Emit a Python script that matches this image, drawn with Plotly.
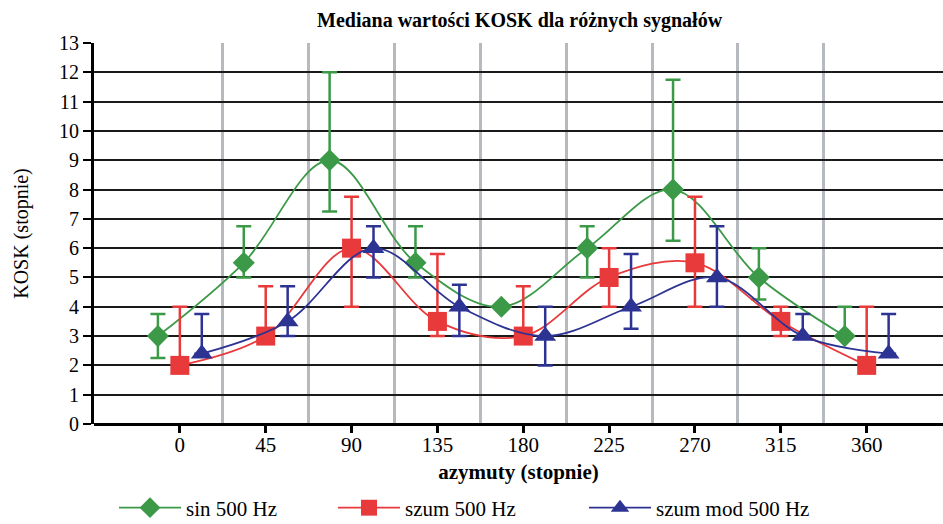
import plotly.graph_objects as go

# Azimuth categories (degrees)
categories = [0, 45, 90, 135, 180, 225, 270, 315, 360]

# Median KOSK values with upper / lower error limits
sin_500 = [3, 5.5, 9, 5.5, 4, 6, 8, 5, 3]
sin_500_hi = [3.75, 6.75, 12, 6.75, 4, 6.75, 11.75, 6, 4]
sin_500_lo = [2.25, 5, 7.25, 5, 4, 5, 6.25, 4.25, 3]

szum_500 = [2, 3, 6, 3.5, 3, 5, 5.5, 3.5, 2]
szum_500_hi = [4, 4.7, 7.75, 5.8, 4.7, 6, 7.75, 4, 4]
szum_500_lo = [2, 3, 4, 3, 3, 4, 4, 3, 2]

szum_mod_500 = [2.4, 3.5, 6, 4, 3, 4, 5, 3, 2.4]
szum_mod_500_hi = [3.75, 4.7, 6.75, 4.75, 4, 5.8, 6.75, 3.75, 3.75]
szum_mod_500_lo = [2.4, 3, 5, 3, 2, 3.25, 4, 3, 2.4]

FONT = "Liberation Serif"

series = [
    ("sin 500 Hz", sin_500, sin_500_hi, sin_500_lo, "#3b9947", "diamond", 17, -11.5, "legend"),
    ("szum 500 Hz", szum_500, szum_500_hi, szum_500_lo, "#e8393b", "square", 19, 0.0, "legend2"),
    ("szum mod 500 Hz", szum_mod_500, szum_mod_500_hi, szum_mod_500_lo, "#2c3393", "triangle-up", 19, 11.5, "legend3"),
]

fig = go.Figure()
for name, vals, hi, lo, color, symbol, size, shift, leg in series:
    xs = [c + shift for c in categories]
    fig.add_trace(go.Scatter(
        x=xs, y=vals, name=name, mode="lines+markers", legend=leg,
        line=dict(color=color, width=1.8, shape="spline", smoothing=1.0),
        marker=dict(symbol=symbol, size=size, color=color, line=dict(width=0)),
        error_y=dict(
            type="data", symmetric=False,
            array=[h - v for h, v in zip(hi, vals)],
            arrayminus=[v - l for v, l in zip(vals, lo)],
            color=color, thickness=2.5, width=7.5,
        ),
    ))

# category boundaries for the vertical separators
mids = [(a + b) / 2 for a, b in zip(categories[:-1], categories[1:])]

fig.update_layout(
    width=943, height=524,
    margin=dict(l=94, r=0, t=43, b=100, autoexpand=False),
    paper_bgcolor="white", plot_bgcolor="white",
    font=dict(family=FONT, color="black", size=20),
    title=dict(text="<b>Mediana wartości KOSK dla różnych sygnałów</b>",
               x=0.551, xanchor="center", y=0.962, yanchor="middle",
               font=dict(family=FONT, size=20, color="black")),
    xaxis=dict(
        range=[-45, 400], tickvals=categories, ticktext=[str(c) for c in categories],
        showgrid=False, zeroline=False, showline=False, automargin=False,
        ticks="outside", ticklen=8, tickwidth=2.5, tickcolor="black",
        ticklabelstandoff=-6,
        tickfont=dict(family=FONT, size=21),
        title=dict(text="<b>azymuty (stopnie)</b>", font=dict(family=FONT, size=21), standoff=8),
        minor=dict(tickvals=mids, showgrid=True, gridcolor="#b6babe", gridwidth=2.5, ticks=""),
    ),
    yaxis=dict(
        range=[0, 13], dtick=1, tick0=0, automargin=False,
        showgrid=True, gridcolor="#1a1a1a", gridwidth=2,
        zeroline=True, zerolinecolor="black", zerolinewidth=3,
        showline=True, linecolor="black", linewidth=3,
        ticks="outside", ticklen=8, tickwidth=2, tickcolor="black",
        tickfont=dict(family=FONT, size=20),
        title=dict(text="KOSK (stopnie)", font=dict(family=FONT, size=20), standoff=26),
    ),
    showlegend=True,
)

legend_common = dict(orientation="h", yref="container", yanchor="middle", y=1 - 508 / 524,
                     xanchor="left", itemwidth=62, bgcolor="rgba(0,0,0,0)", borderwidth=0,
                     font=dict(family=FONT, size=21, color="black"))
fig.update_layout(
    legend=dict(x=(114 - 94) / 849, **legend_common),
    legend2=dict(x=(333 - 94) / 849, **legend_common),
    legend3=dict(x=(584 - 94) / 849, **legend_common),
)

fig.write_html("out.html")
